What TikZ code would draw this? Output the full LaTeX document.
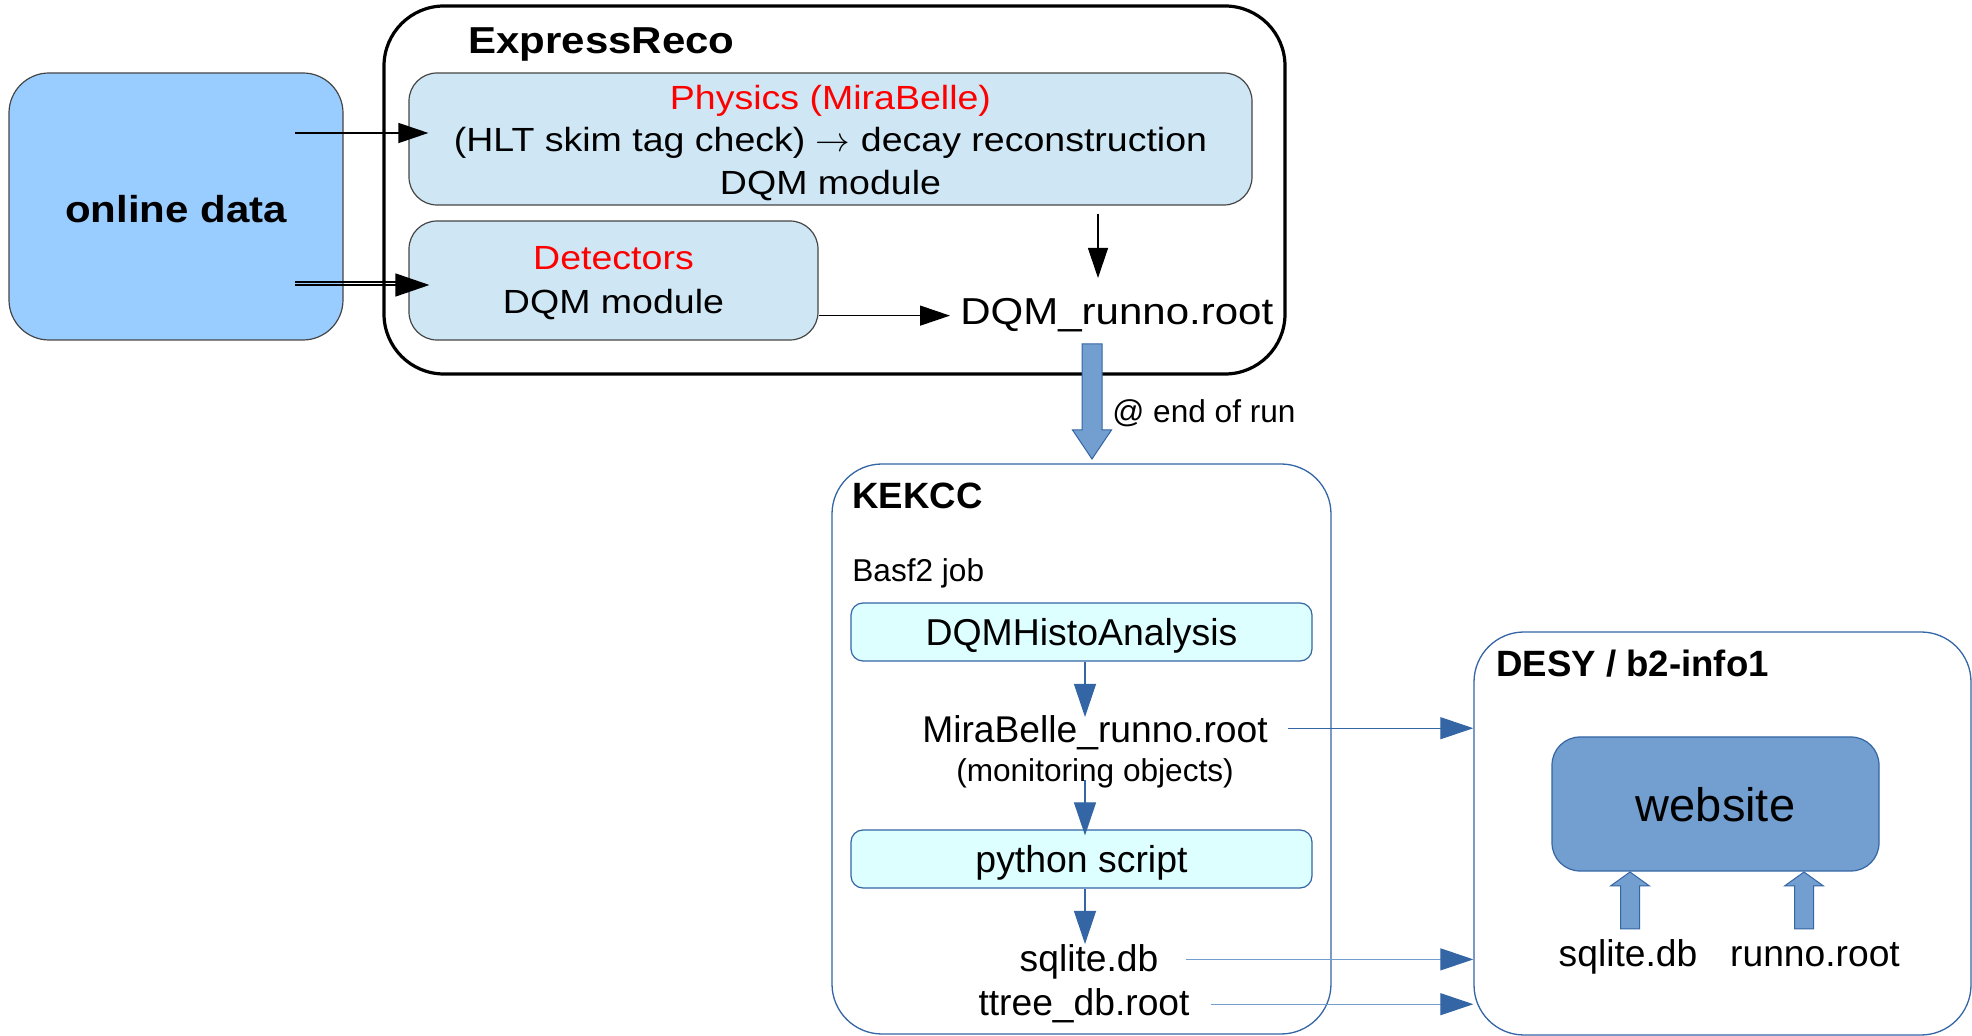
\documentclass[tikz,border=0pt]{standalone}
\usepackage{fontspec}
\setmainfont{Liberation Sans}
\newfontfamily\widesans{Liberation Sans}[FakeStretch=1.12]
\usetikzlibrary{arrows.meta,calc}

\definecolor{onlinefill}{HTML}{99CCFF}
\definecolor{recofill}{HTML}{CFE7F5}
\definecolor{jobfill}{HTML}{DEFFFF}
\definecolor{linkblue}{HTML}{3465A4}
\definecolor{paleblue}{HTML}{729FCF}
\definecolor{boxgray}{HTML}{454545}

% lower a label inside its box without changing the box size
\newcommand\lowerby[2]{\raisebox{-#1}[\height][\depth]{#2}}

\begin{document}
\begin{tikzpicture}[x=0.5pt,y=-0.5pt,
  txt/.style={inner sep=0pt, anchor=base},
  lefttxt/.style={inner sep=0pt, anchor=base west},
  onlinebox/.style={draw=boxgray, line width=0.6pt, fill=onlinefill, rounded corners=20pt,
    inner sep=0pt, font=\widesans\bfseries\fontsize{18.75pt}{22pt}\selectfont},
  framebox/.style={draw=black, line width=1.6pt, rounded corners=30pt, inner sep=0pt},
  recobox/.style={draw=boxgray, line width=0.6pt, fill=recofill, rounded corners=14pt, inner sep=0pt},
  recotext/.style={inner sep=0pt, align=center},
  sitebox/.style={draw=linkblue, line width=0.65pt, fill=white, rounded corners=25pt, inner sep=0pt},
  jobbox/.style={draw=linkblue, line width=0.6pt, fill=jobfill, rounded corners=6pt, inner sep=0pt,
    font=\fontsize{18.7pt}{22pt}\selectfont},
  webbox/.style={draw=linkblue, line width=0.6pt, fill=paleblue, rounded corners=14pt, inner sep=0pt,
    font=\fontsize{23.5pt}{28pt}\selectfont},
  blk/.style={draw=black, line width=0.65pt, -{Triangle[length=15pt,width=10pt]}},
  blu/.style={draw=linkblue, line width=0.6pt, -{Triangle[length=16.5pt,width=11pt]}},
  blulight/.style={draw=paleblue, line width=0.6pt, -{Triangle[length=16.5pt,width=11pt,color=linkblue]}},
  blockarrow/.style={draw=linkblue, line width=0.5pt, fill=paleblue},
  wide/.style={font=\widesans\fontsize{18.75pt}{22pt}\selectfont},
  big/.style={font=\fontsize{18.6pt}{22pt}\selectfont},
  small/.style={font=\fontsize{15.8pt}{19pt}\selectfont},
  title/.style={font=\bfseries\fontsize{18.3pt}{22pt}\selectfont}
]
\useasboundingbox (0,0) rectangle (1972,1036);

% ---------- online data and ExpressReco ----------
\node[onlinebox, minimum width=167pt, minimum height=133.5pt] (online) at (176,206.5)
  {\lowerby{1.25pt}{online data}};

\node[framebox, minimum width=450.5pt, minimum height=184pt] (reco) at (834.5,190) {};
\node[lefttxt, font=\widesans\bfseries\fontsize{18.75pt}{22pt}\selectfont] (recotitle) at (468,54) {ExpressReco};

\node[recobox, minimum width=421.5pt, minimum height=66pt] (phys) at (830.5,139) {};
\node[recotext, font=\widesans\fontsize{16.75pt}{21.25pt}\selectfont] (phystext) at ([yshift=-2pt]phys.center)
  {\textcolor{red}{Physics (MiraBelle)}\\(HLT skim tag check) \(\rightarrow\) decay reconstruction\\DQM module};

\node[recobox, minimum width=204.5pt, minimum height=59.5pt] (det) at (613.5,280.5) {};
\node[recotext, font=\widesans\fontsize{16.75pt}{22pt}\selectfont] (dettext) at ([yshift=-1.5pt]det.center)
  {\textcolor{red}{Detectors}\\DQM module};

\node[lefttxt, wide] (dqm) at (960,325) {DQM\_runno.root};

% feeds from the online data
\coordinate (physin) at (295,133);
\coordinate (detin) at (295,285);
\draw[blk] (physin) -- ([xshift=10pt]phys.west |- physin);
\draw[blk, -{Triangle[length=17pt,width=11.5pt]}] (detin) -- ([xshift=10.5pt]det.west |- detin);
\draw[draw=black, line width=0.65pt] ([yshift=1.5pt]detin) -- ([yshift=1.5pt,xshift=-2pt]det.west |- detin);

% into the run file
\coordinate (dqmtop) at (1098,278);
\draw[blk] ([yshift=-4pt]phys.south -| dqmtop) -- (dqmtop);
\draw[blk] (det.east |- dqm.west) -- ([xshift=-5pt]dqm.west);

% ---------- KEKCC ----------
\node[sitebox, minimum width=249.5pt, minimum height=285pt] (kekcc) at (1081.5,749) {};
\node[lefttxt, title] (kektitle) at (852,509) {KEKCC};
\node[lefttxt, small] (basf) at (852,582) {Basf2 job};

\node[jobbox, minimum width=230.5pt, minimum height=29pt] (histo) at (1081.5,632) {\lowerby{2pt}{DQMHistoAnalysis}};
\node[txt, big] (mira) at (1095,743) {MiraBelle\_runno.root};
\node[txt, small] (moni) at (1095,782) {(monitoring objects)};
\node[jobbox, minimum width=230.5pt, minimum height=29pt] (python) at (1081.5,859) {\lowerby{2pt}{python script}};
\node[txt, big] (sqlite) at (1089,972) {sqlite.db};
\node[txt, big] (ttree) at (1084,1015) {ttree\_db.root};

% end-of-run transfer
\draw[blockarrow] (1082,344) -- (1102,344) -- (1102,430) -- (1111.5,430) -- (1092,459)
  -- (1072.5,430) -- (1082,430) -- cycle;
\node[lefttxt, small] (eor) at (1112,423) {@ end of run};

% job chain
\coordinate (colx) at (1085,0);
\coordinate (miratop) at (1085,717);
\coordinate (monibase) at (1085,780);
\coordinate (sqltop) at (1085,944);
\draw[blu] (histo.south -| colx) -- (miratop);
\draw[blu] (monibase) -- ([yshift=-3pt]python.north -| colx);
\draw[blu] (python.south -| colx) -- (sqltop);

% ---------- DESY / b2-info1 ----------
\node[sitebox, minimum width=248.5pt, minimum height=201.5pt] (desy) at (1722.5,833.5) {};
\node[lefttxt, title] (desytitle) at (1496,677) {DESY / b2-info1};
\node[webbox, minimum width=163.5pt, minimum height=67pt] (web) at (1715.5,804) {\lowerby{0.6pt}{website}};
\node[txt, big] (sqlite2) at (1628,967) {sqlite.db};
\node[txt, big] (runno) at (1815,967) {runno.root};

% transfers to DESY
\coordinate (miraout) at ([xshift=10pt,yshift=2.5pt]mira.east);
\coordinate (sqlout) at ([xshift=13.5pt,yshift=1.5pt]sqlite.east);
\coordinate (ttreeout) at ([xshift=10.75pt,yshift=0.5pt]ttree.east);
\draw[blu] (miraout) -- (desy.west |- miraout);
\draw[blulight] (sqlout) -- (desy.west |- sqlout);
\draw[blulight] (ttreeout) -- (desy.west |- ttreeout);

% inputs of the website
\foreach \cx in {1630,1804}{
  \draw[blockarrow] (\cx-9.5,929) -- (\cx-9.5,886) -- (\cx-19.5,886) -- (\cx,872)
    -- (\cx+19.5,886) -- (\cx+9.5,886) -- (\cx+9.5,929) -- cycle;
}
\end{tikzpicture}
\end{document}
